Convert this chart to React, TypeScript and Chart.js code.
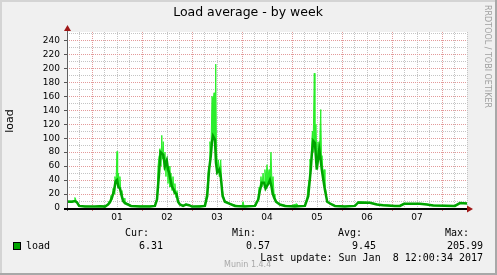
import React, { useEffect, useRef } from "react";
import { Chart, registerables } from "chart.js";

Chart.register(...registerables);

// Hours since Sat Dec 31 12:00 (8 days shown, ending Sun Jan 8 12:00)
const avgHours = [
  0, 2.4, 3.8, 4.8, 5.8, 8.6, 13.4, 15.8, 18.2, 19.7, 20.6, 21.6, 22.6, 23.3, 24.0, 24.7, 25.4, 26.2, 26.9, 27.8,
  29.3, 30.7, 35.0, 39.8, 42.2, 43.2, 44.2, 44.9, 45.6, 46.2, 47.0, 47.9, 48.5, 49.0, 49.7, 50.3, 50.9, 51.8, 52.6,
  53.3, 54.2, 55.7, 57.1, 58.6, 60.0, 63.8, 66.2, 67.3, 68.2, 69.0, 69.6, 70.1, 71.0, 71.5, 72.1, 73.1, 73.8, 74.7,
  75.8, 78.2, 80.6, 85.4, 90.2, 91.8, 92.6, 93.5, 94.6, 95.3, 95.9, 96.7, 97.4, 98.2, 98.7, 99.4, 100.3, 102.2,
  104.6, 109.4, 114.2, 115.8, 117.0, 117.6, 118.2, 119.0, 119.9, 120.5, 121.1, 121.7, 122.3, 123.0, 123.8, 124.9,
  127.1, 128.6, 133.4, 138.2, 139.8, 145.4, 148.7, 151.7, 157.4, 159.8, 161.8, 169.4, 172.7, 175.8, 186.2, 188.6, 192.0,
];
const avgLoad = [
  9, 9, 10, 8, 3, 2, 2, 2.5, 2, 5, 8, 15, 25, 38, 40, 30, 28, 18, 10, 7,
  5, 3, 2, 2, 3, 12, 50, 80, 78, 76, 60, 68, 55, 51, 40, 31, 28, 22, 20,
  9, 5, 3, 5, 4, 2, 2, 3, 17, 55, 74, 95, 103, 98, 65, 51, 55, 45, 17,
  9, 6, 3, 2, 3, 12, 25, 36, 36, 28, 31, 35, 40, 30, 21, 15, 9, 5,
  3, 2, 3, 17, 55, 80, 96, 93, 55, 70, 84, 70, 55, 41, 26, 9,
  5, 3, 2, 3, 8, 7.5, 5, 4, 3, 3, 6, 6, 5, 3.5, 3, 7, 6.31,
];

const maxHours = [
  0, 3.4, 3.8, 4.6, 5.8, 13.4, 15.8, 19.2, 20.2, 20.6, 21.1, 21.6, 22.1, 22.6, 23.0, 23.5, 24.0, 24.3, 24.7, 25.1,
  25.4, 25.9, 26.4, 26.9, 27.4, 27.8, 28.8, 29.8, 30.7, 42.2, 43.2, 43.7, 44.2, 44.6, 45.1, 45.5, 45.8, 46.2, 46.6,
  47.0, 47.5, 48.0, 48.5, 49.0, 49.4, 49.9, 50.4, 50.9, 51.4, 51.8, 52.3, 52.8, 53.3, 54.2, 55.7, 57.1, 58.6, 60.0,
  66.2, 67.2, 67.7, 68.2, 68.6, 69.1, 69.6, 70.1, 70.6, 71.0, 71.4, 71.7, 72.0, 72.5, 72.7, 73.0, 73.4, 73.8, 74.2,
  74.4, 74.9, 75.8, 78.2, 81.1, 84.0, 84.5, 85.0, 90.7, 91.7, 92.2, 92.6, 93.1, 93.6, 94.1, 94.6, 95.0, 95.5, 96.0,
  96.5, 97.0, 97.4, 97.9, 98.4, 98.9, 99.4, 99.8, 100.8, 102.2, 107.0, 110.4, 110.9, 114.2, 115.2, 115.7, 116.2,
  116.6, 117.1, 117.5, 117.8, 118.1, 118.7, 119.0, 119.5, 120.0, 120.5, 121.0, 121.4, 121.8, 122.2, 122.4, 122.9,
  123.4, 123.8, 124.3, 124.8, 126.2, 128.6, 133.4, 138.2, 139.8, 145.4, 148.7, 151.7, 157.4, 159.8, 161.8, 169.4,
  172.7, 175.8, 186.2, 188.6, 192.0,
];
const maxLoad = [
  10, 10, 15, 9, 3, 2, 3, 3, 10, 8, 18, 12, 28, 20, 45, 35, 81, 35, 50, 30,
  45, 20, 25, 12, 14, 8, 7, 5, 3, 3, 15, 60, 75, 85, 60, 104, 70, 95, 55,
  80, 45, 70, 35, 60, 30, 50, 25, 45, 20, 35, 15, 25, 10, 5, 3, 6, 4, 2,
  4, 25, 50, 60, 95, 80, 160, 150, 165, 100, 206, 90, 70, 50, 69, 45, 60, 69, 40,
  30, 20, 10, 6, 4, 3, 9, 3, 3, 15, 30, 25, 45, 30, 50, 35, 55, 40, 62,
  45, 55, 40, 80, 35, 45, 20, 15, 8, 5, 3, 6, 2.5, 4, 15, 30, 40,
  70, 60, 96, 110, 80, 193, 100, 120, 60, 95, 70, 105, 141, 60, 75, 50,
  55, 30, 25, 10, 6, 3.5, 2.5, 3.5, 9, 8, 5.5, 4.5, 3.5, 3.5, 6.5, 6.5,
  5.5, 4, 3.5, 7.5, 7,
];

const xTickHours = Array.from({ length: 33 }, (_, i) => i * 6);
const yTickValues = Array.from({ length: 26 }, (_, i) => i * 10);

const titleText = "Load average - by week";
const yTitle = "load";
const seriesName = "load";
const statHeaders = ["Cur:", "Min:", "Avg:", "Max:"];
const statValues = ["6.31", "0.57", "9.45", "205.99"];
const lastUpdate = "Last update: Sun Jan  8 12:00:34 2017";
const muninVersion = "Munin 1.4.4";
const sideText = "RRDTOOL / TOBI OETIKER";

const DARK = "#00a400";
const LIGHT = "#2aee2a";
const RED_GRID = "#e39a9a";
const GRAY_GRID = "#c4c4c4";
const ARROW = "#a01818";

export default function App() {
  const ref = useRef<HTMLCanvasElement | null>(null);

  useEffect(() => {
    document.body.style.margin = "0";
    const canvas = ref.current!;
    const bgPlugin = {
      id: "bg",
      beforeDraw(chart: any) {
        const { ctx, chartArea: a } = chart;
        ctx.save();
        ctx.fillStyle = "#f0f0f0";
        ctx.fillRect(0, 0, 497, 275);
        ctx.fillStyle = "#d4d4d4";
        ctx.fillRect(0, 0, 497, 2);
        ctx.fillRect(0, 0, 2, 275);
        ctx.fillStyle = "#a8a8a8";
        ctx.fillRect(495, 0, 2, 275);
        ctx.fillRect(0, 273, 497, 2);
        ctx.fillStyle = "#ffffff";
        ctx.fillRect(a.left, a.top, a.right - a.left, a.bottom - a.top);
        ctx.restore();
      },
    };
    const overlayPlugin = {
      id: "overlay",
      afterDraw(chart: any) {
        const { ctx, chartArea: a } = chart;
        const ys = chart.scales.y;
        const xs = chart.scales.x;
        ctx.save();
        // y tick marks
        ctx.strokeStyle = "#555";
        ctx.lineWidth = 1;
        for (const v of yTickValues) {
          if (v % 20 !== 0) continue;
          const py = Math.round(ys.getPixelForValue(v)) + 0.5;
          ctx.beginPath();
          ctx.moveTo(a.left - 3, py);
          ctx.lineTo(a.left, py);
          ctx.stroke();
        }
        // x tick marks at day boundaries
        ctx.strokeStyle = "#d07070";
        for (const h of xTickHours) {
          if (h % 24 !== 12) continue;
          const px = Math.round(xs.getPixelForValue(h)) + 0.5;
          ctx.beginPath();
          ctx.moveTo(px, a.bottom);
          ctx.lineTo(px, a.bottom + 3);
          ctx.stroke();
        }
        // y axis
        ctx.strokeStyle = "#606060";
        ctx.beginPath();
        ctx.moveTo(a.left + 0.5, a.top - 3);
        ctx.lineTo(a.left + 0.5, a.bottom + 3);
        ctx.stroke();
        // x axis
        ctx.strokeStyle = "#000";
        ctx.lineWidth = 2;
        ctx.beginPath();
        ctx.moveTo(a.left - 3, a.bottom + 1);
        ctx.lineTo(a.right + 1, a.bottom + 1);
        ctx.stroke();
        // arrows
        ctx.fillStyle = ARROW;
        ctx.beginPath();
        ctx.moveTo(a.left + 0.5, a.top - 7);
        ctx.lineTo(a.left - 3, a.top - 1);
        ctx.lineTo(a.left + 4, a.top - 1);
        ctx.closePath();
        ctx.fill();
        ctx.beginPath();
        ctx.moveTo(a.right + 6, a.bottom + 1);
        ctx.lineTo(a.right, a.bottom - 2.5);
        ctx.lineTo(a.right, a.bottom + 4.5);
        ctx.closePath();
        ctx.fill();

        // title
        ctx.fillStyle = "#000";
        ctx.textBaseline = "middle";
        ctx.textAlign = "center";
        ctx.font = "12.5px 'DejaVu Sans'";
        ctx.fillText(titleText, 248, 13);

        // y title
        ctx.save();
        ctx.translate(10.5, 121);
        ctx.rotate(-Math.PI / 2);
        ctx.font = "11px 'DejaVu Sans'";
        ctx.fillText(yTitle, 0, 0);
        ctx.restore();

        // side text
        ctx.save();
        ctx.translate(487, 56.5);
        ctx.rotate(Math.PI / 2);
        ctx.fillStyle = "#a0a0a0";
        ctx.font = "8px 'DejaVu Sans'";
        ctx.fillText(sideText, 0, 0);
        ctx.restore();

        // legend
        ctx.fillStyle = DARK;
        ctx.fillRect(13.5, 242.5, 7, 7);
        ctx.strokeStyle = "#000";
        ctx.lineWidth = 1;
        ctx.strokeRect(13.5, 242.5, 7, 7);
        ctx.fillStyle = "#000";
        ctx.font = "10px 'DejaVu Sans Mono'";
        ctx.textAlign = "left";
        ctx.fillText(seriesName, 26, 246);
        ctx.textAlign = "right";
        const hdrRight = [149, 256, 362, 469];
        const valRight = [163, 270, 376, 483];
        statHeaders.forEach((t, i) => ctx.fillText(t, hdrRight[i], 233.5));
        statValues.forEach((t, i) => ctx.fillText(t, valRight[i], 246));
        ctx.fillText(lastUpdate, 483, 258);
        ctx.textAlign = "left";
        ctx.fillStyle = "#a8a8a8";
        ctx.font = "8px 'DejaVu Sans'";
        ctx.fillText(muninVersion, 224, 265);
        ctx.restore();
      },
    };

    const tickFont = { family: "'DejaVu Sans'", size: 9 };
    const chart = new Chart(canvas, {
      type: "line",
      data: {
        datasets: [
          {
            label: seriesName,
            data: avgHours.map((h, i) => ({ x: h, y: avgLoad[i] })),
            borderColor: DARK,
            borderWidth: 2.5,
            pointRadius: 0,
            tension: 0,
            fill: false,
          },
          {
            label: seriesName + " max",
            data: maxHours.map((h, i) => ({ x: h, y: maxLoad[i] })),
            borderColor: LIGHT,
            backgroundColor: LIGHT,
            borderWidth: 1,
            pointRadius: 0,
            tension: 0,
            fill: 0,
          },
        ],
      },
      options: {
        animation: false,
        responsive: false,
        layout: { padding: { top: 32, right: 30, left: 0, bottom: 0 } },
        plugins: {
          legend: { display: false },
          tooltip: { enabled: false },
          title: { display: false },
        },
        scales: {
          x: {
            type: "linear",
            min: 0,
            max: 192,
            afterFit: (s: any) => {
              s.height = 67;
            },
            afterBuildTicks: (s: any) => {
              s.ticks = xTickHours.map((v) => ({ value: v }));
            },
            ticks: {
              autoSkip: false,
              maxRotation: 0,
              padding: 4,
              color: "#000",
              font: tickFont,
              callback: (v: any) => {
                const n = Number(v);
                return n % 24 === 0 && n > 0 && n < 192 ? String(n / 24).padStart(2, "0") : "";
              },
            },
            grid: {
              drawTicks: false,
              lineWidth: 1,
              color: (c: any) => (c.tick && c.tick.value % 24 === 12 ? RED_GRID : GRAY_GRID),
            },
            border: { display: false, dash: [1, 1] },
          },
          y: {
            min: 0,
            max: 252,
            afterFit: (s: any) => {
              s.width = 67;
            },
            afterBuildTicks: (s: any) => {
              s.ticks = yTickValues.map((v) => ({ value: v }));
            },
            ticks: {
              autoSkip: false,
              padding: 7,
              color: "#000",
              font: tickFont,
              callback: (v: any) => (Number(v) % 20 === 0 ? String(v) : ""),
            },
            grid: {
              drawTicks: false,
              lineWidth: 1,
              color: (c: any) => (c.tick && c.tick.value % 20 === 0 ? RED_GRID : GRAY_GRID),
            },
            border: { display: false, dash: [1, 1] },
          },
        },
      },
      plugins: [bgPlugin, overlayPlugin],
    });
    return () => chart.destroy();
  }, []);

  return <canvas ref={ref} width={497} height={275} style={{ display: "block" }} />;
}
